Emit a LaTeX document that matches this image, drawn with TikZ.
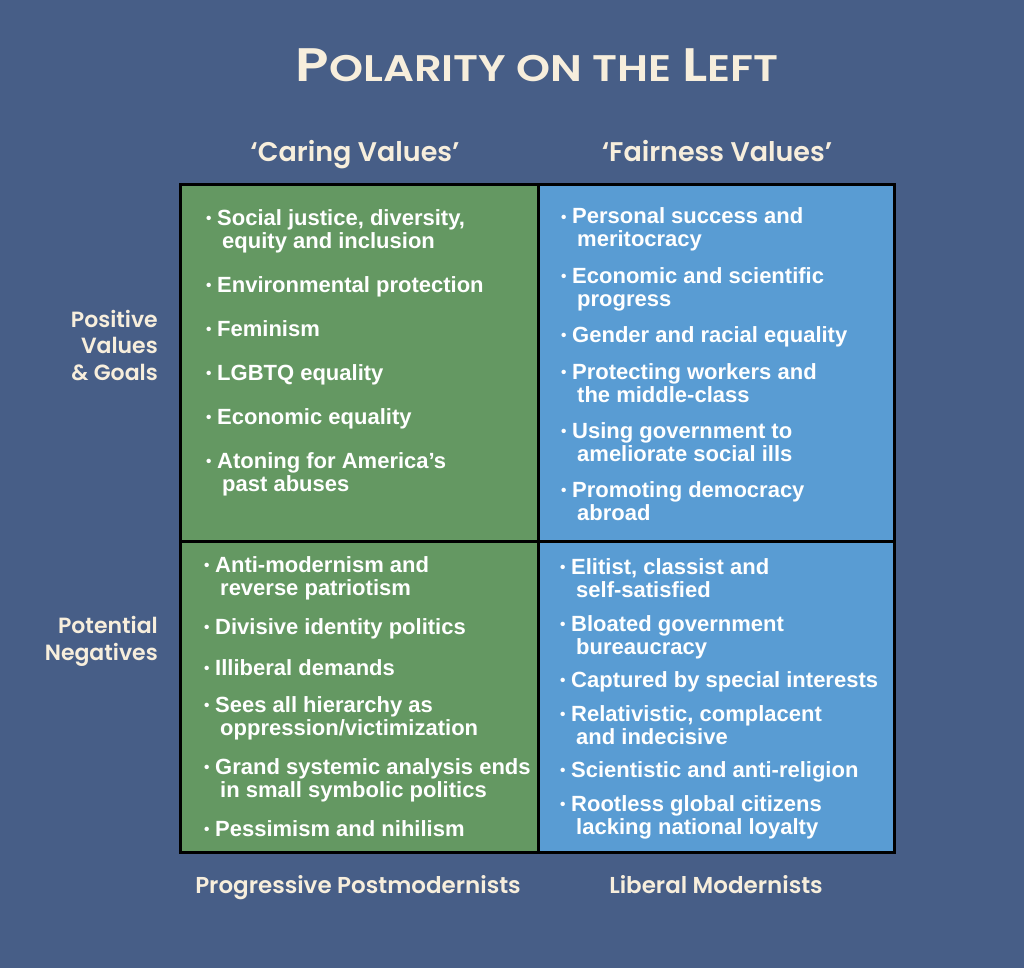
\documentclass[tikz,border=0pt]{standalone}
\usepackage{fontspec}
\usepackage{graphicx}
\setmainfont{Liberation Sans}
\newfontfamily\headfont{Poppins SemiBold}

\definecolor{bgblue}{RGB}{71,94,135}
\definecolor{cellgreen}{RGB}{100,152,98}
\definecolor{cellblue}{RGB}{89,156,211}
\definecolor{cream}{RGB}{247,238,220}

\newcommand{\blt}{\makebox[11pt][l]{\raisebox{0.1ex}{\scalebox{0.7}{•}}}}
\newcommand{\nxt}{\\\hspace{16pt}}

\tikzset{
    title/.style={text=cream, font=\headfont, anchor=base, inner sep=0pt},
    colhead/.style={text=cream, font=\headfont\fontsize{27}{27}\selectfont, anchor=base, inner sep=0pt},
    rowhead/.style={text=cream, font=\headfont\fontsize{22}{26.5}\selectfont, align=right, anchor=base east, inner sep=0pt},
    foot/.style={text=cream, font=\headfont\fontsize{23}{23}\selectfont, anchor=base, inner sep=0pt},
    entry/.style={text=white, font=\bfseries\fontsize{22}{23}\selectfont, align=left, anchor=base west, inner sep=0pt},
    cell/.style={draw=black, line width=3pt, anchor=north west, inner sep=0pt},
}

\begin{document}
\begin{tikzpicture}[x=1pt,y=-1pt]
        \fill[bgblue] (0,0) rectangle (1024,968);
        \useasboundingbox (0,0) rectangle (1024,968);

        \node[title] (ttl) at (537,82) {\scalebox{1.17}[1]{{\fontsize{47}{47}\selectfont P}{\fontsize{37}{37}\selectfont OLARITY ON THE }{\fontsize{47}{47}\selectfont L}{\fontsize{37}{37}\selectfont EFT}}};
        \node[colhead] (care) at (355,162) {‘Caring Values’};
        \node[colhead] (fair) at (717,162) {‘Fairness Values’};

        \node[cell, fill=cellgreen, minimum width=358pt, minimum height=357pt] (cpos) at (179,183) {};
        \node[cell, fill=cellblue, minimum width=356pt, minimum height=357pt] (fpos) at (537,183) {};
        \node[cell, fill=cellgreen, minimum width=358pt, minimum height=311pt] (cneg) at (179,540) {};
        \node[cell, fill=cellblue, minimum width=356pt, minimum height=311pt] (fneg) at (537,540) {};

        % base of a multi-line node = its last line
        \node[rowhead] (pos) at (158,380) {Positive\\Values\\\& Goals};
        \node[rowhead] (neg) at (158,660) {Potential\\Negatives};

        % caring, positive
        \node[entry] (cp1) at (206,248) {\blt Social justice, diversity,\nxt equity and inclusion};
        \node[entry] (cp2) at (206,292) {\blt Environmental protection};
        \node[entry] (cp3) at (206,336) {\blt Feminism};
        \node[entry] (cp4) at (206,380) {\blt LGBTQ equality};
        \node[entry] (cp5) at (206,424) {\blt Economic equality};
        \node[entry] (cp6) at (206,491) {\blt Atoning for America’s\nxt past abuses};

        % fairness, positive
        \node[entry] (fp1) at (561,247) {\blt Personal success and\nxt meritocracy};
        \node[entry] (fp2) at (561,306) {\blt Economic and scientific\nxt progress};
        \node[entry] (fp3) at (561,342) {\blt Gender and racial equality};
        \node[entry] (fp4) at (561,402) {\blt Protecting workers and\nxt the middle-class};
        \node[entry] (fp5) at (561,461) {\blt Using government to\nxt ameliorate social ills};
        \node[entry] (fp6) at (561,520) {\blt Promoting democracy\nxt abroad};

        % caring, negative
        \node[entry] (cn1) at (204,595) {\blt Anti-modernism and\nxt reverse patriotism};
        \node[entry] (cn2) at (204,634) {\blt Divisive identity politics};
        \node[entry] (cn3) at (204,675) {\blt Illiberal demands};
        \node[entry] (cn4) at (204,735) {\blt Sees all hierarchy as\nxt oppression/victimization};
        \node[entry] (cn5) at (204,797) {\blt Grand systemic analysis ends\nxt in small symbolic politics};
        \node[entry] (cn6) at (204,836) {\blt Pessimism and nihilism};

        % fairness, negative
        \node[entry] (fn1) at (560,597) {\blt Elitist, classist and\nxt self-satisfied};
        \node[entry] (fn2) at (560,654) {\blt Bloated government\nxt bureaucracy};
        \node[entry] (fn3) at (560,687) {\blt Captured by special interests};
        \node[entry] (fn4) at (560,744) {\blt Relativistic, complacent\nxt and indecisive};
        \node[entry] (fn5) at (560,777) {\blt Scientistic and anti-religion};
        \node[entry] (fn6) at (560,834) {\blt Rootless global citizens\nxt lacking national loyalty};

        \node[foot] (prog) at (358,893) {Progressive Postmodernists};
        \node[foot] (libm) at (716,893) {Liberal Modernists};
    \end{tikzpicture}
\end{document}
